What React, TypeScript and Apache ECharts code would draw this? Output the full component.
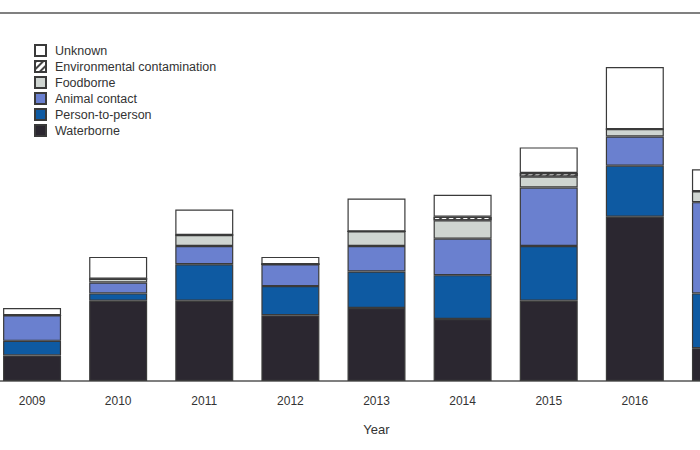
import React, { useEffect, useRef } from "react";
import * as echarts from "echarts";

const years = ["2009", "2010", "2011", "2012", "2013", "2014", "2015", "2016", "2017"];
const waterborne = [7, 22, 22, 18, 20, 17, 22, 45, 9];
const personToPerson = [4, 2, 10, 8, 10, 12, 15, 14, 15];
const animalContact = [7, 3, 5, 6, 7, 10, 16, 8, 25];
const foodborne = [0, 1, 3, 0, 4, 5, 3, 2, 3];
const environmental = [0, 0, 0, 0, 0, 1, 1, 0, 0];
const unknown = [2, 6, 7, 2, 9, 6, 7, 17, 6];

const legendOrder = [
  "Unknown",
  "Environmental contamination",
  "Foodborne",
  "Animal contact",
  "Person-to-person",
  "Waterborne",
];

const FONT = "'Liberation Sans', Arial, sans-serif";
const BORDER = "#3a3a3a";

export default function App() {
  const ref = useRef<HTMLDivElement>(null);

  useEffect(() => {
    if (!ref.current) return;
    const chart = echarts.init(ref.current, undefined, { renderer: "svg" });

    const mk = (name: string, data: number[], itemStyle: any) => ({
      name,
      type: "bar",
      stack: "total",
      barWidth: 58,
      data,
      itemStyle: { borderColor: BORDER, borderWidth: 1.2, ...itemStyle },
      emphasis: { disabled: true },
    });

    chart.setOption({
      animation: false,
      backgroundColor: "#ffffff",
      textStyle: { fontFamily: FONT },
      graphic: [
        {
          type: "rect",
          shape: { x: 0, y: 12, width: 700, height: 2 },
          style: { fill: "#808080" },
          silent: true,
        },
      ],
      legend: {
        orient: "vertical",
        left: 34,
        top: 44,
        padding: 0,
        itemWidth: 11,
        itemHeight: 11,
        itemGap: 3,
        icon: "rect",
        selectedMode: false,
        data: legendOrder,
        textStyle: {
          fontSize: 12.5,
          color: "#333",
          fontFamily: FONT,
          lineHeight: 11,
          padding: [0, 0, 0, 4],
        },
      },
      grid: {
        left: -11,
        right: -64,
        top: 16,
        bottom: 69,
        containLabel: false,
        outerBoundsMode: "none",
      },
      xAxis: {
        type: "category",
        data: years,
        axisLine: { lineStyle: { color: "#555", width: 1.5 } },
        axisTick: { alignWithLabel: true, length: 5, lineStyle: { color: "#555" } },
        axisLabel: {
          margin: 14,
          fontSize: 12,
          color: "#333",
          fontFamily: FONT,
          interval: (i: number) => i < years.length - 1,
        },
        name: "Year",
        nameLocation: "middle",
        nameGap: 42,
        nameTextStyle: { fontSize: 13, color: "#333", fontFamily: FONT },
      },
      yAxis: { type: "value", min: 0, max: 100, show: false },
      series: [
        mk("Waterborne", waterborne, { color: "#2b2730" }),
        mk("Person-to-person", personToPerson, { color: "#0e5aa2" }),
        mk("Animal contact", animalContact, { color: "#6a80cf" }),
        mk("Foodborne", foodborne, { color: "#cfd5d1" }),
        mk("Environmental contamination", environmental, {
          color: "#ffffff",
          decal: {
            symbol: "rect",
            symbolSize: 1,
            dashArrayX: [1, 0],
            dashArrayY: [1.5, 2.5],
            rotation: -Math.PI / 4,
            color: "#444",
          },
        }),
        mk("Unknown", unknown, { color: "#ffffff" }),
      ],
    });

    return () => chart.dispose();
  }, []);

  return (
    <div
      ref={ref}
      style={{ position: "fixed", left: 0, top: 0, width: 700, height: 450, background: "#fff" }}
    />
  );
}
